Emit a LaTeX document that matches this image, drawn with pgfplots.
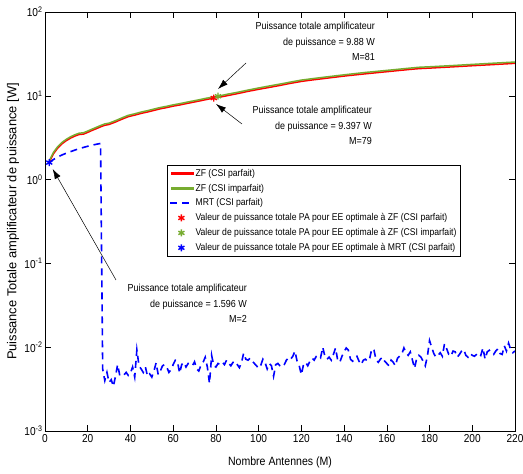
\documentclass[border=0pt]{standalone}
\usepackage{fontspec}
\setmainfont{Liberation Sans}[FakeStretch=0.88]
\newfontfamily\yfont{Liberation Sans}
\usepackage{pgfplots}
\usepackage{pgfplotstable}
\pgfplotsset{compat=1.18}
\usetikzlibrary{arrows.meta}

\definecolor{mgreen}{rgb}{0.466,0.674,0.188}

\pgfplotstableread{
M zfp zfi
2 1.62 1.68
4 2.04 2.12
6 2.39 2.48
8 2.68 2.78
10 2.92 3.03
12 3.13 3.25
14 3.31 3.43
16 3.45 3.58
18 3.49 3.62
20 3.66 3.80
22 3.86 4.00
24 4.05 4.20
26 4.26 4.42
28 4.45 4.62
30 4.55 4.72
33 4.87 5.05
36 5.26 5.45
39 5.64 5.85
42 5.88 6.10
45 6.17 6.40
48 6.41 6.65
51 6.70 6.95
54 7.00 7.25
57 7.24 7.50
60 7.53 7.80
63 7.77 8.05
66 8.06 8.35
69 8.35 8.65
72 8.64 8.95
75 8.97 9.30
79 9.397 9.72
81 9.55 9.88
85 10.0 10.4
90 10.6 11.0
95 11.3 11.7
100 11.95 12.4
105 12.6 13.1
110 13.3 13.8
115 14.1 14.6
120 14.85 15.4
125 15.45 16.0
130 16.0 16.6
140 17.2 17.8
150 18.3 19.0
160 19.4 20.1
170 20.55 21.3
175 21.1 21.9
180 21.4 22.2
190 22.1 22.9
200 22.85 23.7
210 23.6 24.5
220 24.4 25.3
}\zftable

\pgfplotstableread{
M v
2 1.596
4 1.74
6 1.86
8 1.97
10 2.07
12 2.16
14 2.25
16 2.34
18 2.42
20 2.50
22 2.57
24 2.64
26 2.70
27 0.0055
28 0.0040
29 0.0050
30 0.0038
31 0.0041
32 0.0034
33 0.0045
34 0.0062
35 0.0046
36 0.0048
37 0.0047
38 0.0050
39 0.0046
40 0.0049
41 0.0058
42 0.0044
43 0.0093
44 0.0060
45 0.0055
46 0.0050
47 0.0058
48 0.0045
49 0.0048
50 0.0044
51 0.0052
52 0.0065
53 0.0047
54 0.0052
55 0.0060
56 0.0062
57 0.0058
58 0.0050
59 0.0054
60 0.0062
61 0.0070
62 0.0068
63 0.0049
64 0.0062
65 0.0066
66 0.0058
67 0.0064
68 0.0063
69 0.0060
70 0.0067
71 0.0055
72 0.0052
73 0.0061
74 0.0066
75 0.0076
76 0.0058
77 0.0037
78 0.0080
79 0.0060
80 0.0058
81 0.0064
82 0.0062
83 0.0066
84 0.0062
85 0.0070
86 0.0064
87 0.0060
88 0.0066
89 0.0068
90 0.0062
91 0.0057
92 0.0066
93 0.0085
94 0.0072
95 0.0070
96 0.0074
97 0.0068
98 0.0064
99 0.0060
100 0.0056
101 0.0061
102 0.0072
103 0.0066
104 0.0055
105 0.0064
106 0.0060
107 0.0045
108 0.0062
109 0.0064
110 0.0060
111 0.0058
112 0.0062
113 0.0070
114 0.0075
115 0.0072
116 0.0078
117 0.0090
118 0.0068
119 0.0060
120 0.0047
121 0.0062
122 0.0066
123 0.0060
124 0.0068
125 0.0074
126 0.0070
127 0.0078
128 0.0080
129 0.0075
130 0.0100
131 0.0078
132 0.0072
133 0.0076
134 0.0070
135 0.0082
136 0.0098
137 0.0070
138 0.0066
139 0.0078
140 0.0088
141 0.0098
142 0.0092
143 0.0072
144 0.0068
145 0.0074
146 0.0078
147 0.0068
148 0.0062
149 0.0070
150 0.0072
151 0.0068
152 0.0074
153 0.0096
154 0.0092
155 0.0070
156 0.0066
157 0.0072
158 0.0076
159 0.0068
160 0.0064
161 0.0060
162 0.0070
163 0.0066
164 0.0060
165 0.0074
166 0.0078
167 0.0082
168 0.0098
169 0.0086
170 0.0080
171 0.0088
172 0.0070
173 0.0056
174 0.0074
175 0.0080
176 0.0076
177 0.0068
178 0.0060
179 0.0078
180 0.0120
181 0.0100
182 0.0084
183 0.0076
184 0.0080
185 0.0086
186 0.0078
187 0.0110
188 0.0096
189 0.0082
190 0.0078
191 0.0090
192 0.0088
193 0.0076
194 0.0082
195 0.0090
196 0.0094
197 0.0080
198 0.0076
199 0.0084
200 0.0080
201 0.0078
202 0.0082
203 0.0086
204 0.0080
205 0.0098
206 0.0072
207 0.0088
208 0.0092
209 0.0086
210 0.0082
211 0.0090
212 0.0096
213 0.0084
214 0.0082
215 0.0104
216 0.0090
217 0.0112
218 0.0094
219 0.0086
220 0.0090
}\mrttable

\begin{document}
\begin{tikzpicture}
\useasboundingbox (-45pt,-43pt) rectangle (478pt,431pt);
\begin{axis}[
  at={(0,0)}, anchor=south west,
  scale only axis, width=470pt, height=419pt,
  ymode=log, log basis y=10,
  xmin=0, xmax=220, ymin=1e-3, ymax=1e2,
  xtick={0,20,...,220},
  ytick={1e-3,1e-2,1e-1,1,10,100},
  yticklabels={10\textsuperscript{-3},10\textsuperscript{-2},10\textsuperscript{-1},10\textsuperscript{0},10\textsuperscript{1},10\textsuperscript{2}},
  /pgf/number format/assume math mode=true,
  tick label style={font=\fontsize{11.5}{13}\selectfont},
  yticklabel style={xshift=1pt},
  major tick length=6pt, minor tick length=3pt,
  tick style={black, line width=0.5pt},
  axis line style={line width=0.6pt},
  xlabel={Nombre Antennes (M)},
  ylabel={\yfont Puissance Totale amplificateur de puissance [W]},
  xlabel style={font=\fontsize{12}{14}\selectfont, at={(axis description cs:0.5,-0.076)}, anchor=center},
  ylabel style={font=\fontsize{12.9}{14}\selectfont, at={(axis description cs:-0.068,0.5)}, anchor=center},
  legend style={at={(axis description cs:0.2596,0.6348)}, anchor=north west,
    font=\fontsize{9.8}{11}\selectfont, fill=white,
    inner sep=2pt, row sep=2.2pt},
  legend cell align=left,
  legend image code/.code={\draw[mark repeat=2,mark phase=2,#1] plot coordinates {(0cm,0cm) (0.4cm,0cm) (0.8cm,0cm)};},
]
\addplot[red, line width=1.5pt, no marks,
  legend image code/.code={\fill[red] (0.05cm,-0.6pt) rectangle (0.8cm,0.6pt);}] table[x=M, y=zfp] {\zftable};
\addlegendentry{ZF (CSI parfait)}
\addplot[mgreen, line width=1.5pt, no marks,
  legend image code/.code={\fill[mgreen] (0.05cm,-0.6pt) rectangle (0.8cm,0.6pt);}] table[x=M, y=zfi] {\zftable};
\addlegendentry{ZF (CSI imparfait)}
\addplot[blue, line width=1.6pt, dash pattern=on 7pt off 5pt, no marks,
  legend image code/.code={\draw[blue, line width=1.6pt, dash pattern=on 7pt off 5pt] (0cm,0cm) -- (0.8cm,0cm);}] table[x=M, y=v] {\mrttable};
\addlegendentry{MRT (CSI parfait)}
\addplot[red, only marks, mark=asterisk, mark size=3.5pt, line width=1.4pt] coordinates {(79,9.397)};
\addlegendentry{Valeur de puissance totale PA pour EE optimale à ZF (CSI parfait)}
\addplot[mgreen, only marks, mark=asterisk, mark size=3.5pt, line width=1.4pt] coordinates {(81,9.88)};
\addlegendentry{Valeur de puissance totale PA pour EE optimale à ZF (CSI imparfait)}
\addplot[blue, only marks, mark=asterisk, mark size=3.5pt, line width=1.4pt] coordinates {(2,1.596)};
\addlegendentry{Valeur de puissance totale PA pour EE optimale à MRT (CSI parfait)}
\end{axis}
\node[anchor=north east, align=right, inner sep=0pt, font=\fontsize{10.2}{15.5}\selectfont] at (330pt,409pt) {Puissance totale amplificateur\\de puissance = 9.88 W\\M=81};
\node[anchor=north east, align=right, inner sep=0pt, font=\fontsize{10.2}{15.5}\selectfont] at (327pt,325pt) {Puissance totale amplificateur\\de puissance = 9.397 W\\M=79};
\node[anchor=north east, align=right, inner sep=0pt, font=\fontsize{10.2}{15.5}\selectfont] at (202pt,147pt) {Puissance totale amplificateur\\de puissance = 1.596 W\\M=2};
\draw[line width=0.5pt, -{Latex[length=10pt,width=6.5pt]}] (201pt,368pt) -- (173pt,342pt);
\draw[line width=0.5pt, -{Latex[length=10pt,width=6.5pt]}] (197pt,307pt) -- (171pt,327pt);
\draw[line width=0.5pt, -{Latex[length=10pt,width=6.5pt]}] (71pt,151pt) -- (7.7pt,262pt);
\end{tikzpicture}
\end{document}
